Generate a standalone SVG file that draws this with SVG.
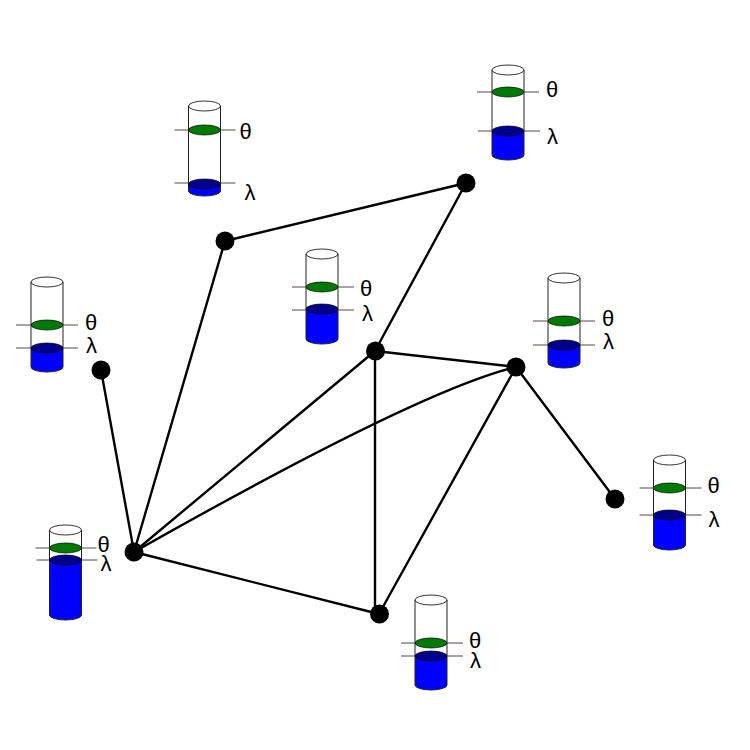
<svg xmlns="http://www.w3.org/2000/svg" width="750" height="750" viewBox="0 0 750 750">
<style>
.edge{fill:none;stroke:#000;stroke-width:2.4;stroke-linecap:round}
.dot{fill:#000}
.wall{stroke:#222;stroke-width:1;fill:none}
.top{fill:#fff;stroke:#000;stroke-width:.8}
.tick{stroke:#5e454c;stroke-width:1}
.water{fill:#0000ff;stroke:none}
.lam{fill:#00008b;stroke:#000;stroke-width:.7}
.the{fill:#007a00;stroke:#000;stroke-width:.7}
text{font-family:"Liberation Sans",Arial,sans-serif;font-size:22px;fill:#000}
</style>
<defs>
<g id="tube"><ellipse class="top" cx="0" cy="0" rx="16" ry="5"/><path class="wall" d="M-16 0V80M16 0V80"/></g>
</defs>
<g id="connectors">
<path class="edge" d="M225 241L466 183"/>
<path class="edge" d="M466 183L375 351"/>
<path class="edge" d="M225 241L134 552"/>
<path class="edge" d="M101 370L134 552"/>
<path class="edge" d="M375 351L516 367"/>
<path class="edge" d="M375 351L134 552"/>
<path class="edge" d="M375 351L375 614"/>
<path class="edge" d="M134 552Q420 390 516 367"/>
<path class="edge" d="M516 367L379 614"/>
<path class="edge" d="M516 367L615 499"/>
<path class="edge" d="M134 552L379 614"/>
</g>
<g id="n1"><circle class="dot" cx="225" cy="241" r="9.500"/></g>
<g id="n2"><circle class="dot" cx="466" cy="183" r="9.500"/></g>
<g id="n3"><circle class="dot" cx="375.500" cy="351" r="9.500"/></g>
<g id="n4"><circle class="dot" cx="101" cy="370" r="9.500"/></g>
<g id="n5"><circle class="dot" cx="516" cy="367" r="9.500"/></g>
<g id="n6"><circle class="dot" cx="615" cy="499" r="9.500"/></g>
<g id="n7"><circle class="dot" cx="134" cy="552" r="9.500"/></g>
<g id="n8"><circle class="dot" cx="379.500" cy="614" r="9.500"/></g>

<g id="tank1" transform="translate(204.500 106)">
<path class="water" d="M-16 78V85A16 5 0 0 0 16 85V78Z"/>
<use href="#tube"/>
<path class="wall" d="M-16 80V85A16 5 0 0 0 16 85V80"/>
<path class="tick" d="M-30 24H31M-30 77H31"/>
<ellipse class="the" cx="0" cy="24" rx="16" ry="5"/>
<ellipse class="lam" cx="0" cy="78" rx="16" ry="5"/>
<text x="35" y="33">θ</text><text x="40" y="94">λ</text>
</g>
<g id="tank2" transform="translate(508 70)">
<path class="water" d="M-16 61V85A16 5 0 0 0 16 85V61Z"/>
<use href="#tube"/>
<path class="wall" d="M-16 80V85A16 5 0 0 0 16 85V80"/>
<path class="tick" d="M-31 22H31M-30 61H32"/>
<ellipse class="the" cx="0" cy="22" rx="16" ry="5"/>
<ellipse class="lam" cx="0" cy="61" rx="16" ry="5"/>
<text x="38" y="27">θ</text><text x="39" y="74">λ</text>
</g>
<g id="tank3" transform="translate(322 254)">
<path class="water" d="M-16 55V85A16 5 0 0 0 16 85V55Z"/>
<use href="#tube"/>
<path class="wall" d="M-16 80V85A16 5 0 0 0 16 85V80"/>
<path class="tick" d="M-30 33H32M-30 56H32"/>
<ellipse class="the" cx="0" cy="33" rx="16" ry="5"/>
<ellipse class="lam" cx="0" cy="55" rx="16" ry="5"/>
<text x="38" y="42">θ</text><text x="40" y="67">λ</text>
</g>
<g id="tank4" transform="translate(47 282)">
<path class="water" d="M-16 66V85A16 5 0 0 0 16 85V66Z"/>
<use href="#tube"/>
<path class="wall" d="M-16 80V85A16 5 0 0 0 16 85V80"/>
<path class="tick" d="M-31 43H31M-31 66H31"/>
<ellipse class="the" cx="0" cy="43" rx="16" ry="5"/>
<ellipse class="lam" cx="0" cy="66" rx="16" ry="5"/>
<text x="38" y="48">θ</text><text x="39" y="71">λ</text>
</g>
<g id="tank5" transform="translate(564 278)">
<path class="water" d="M-16 67V85A16 5 0 0 0 16 85V67Z"/>
<use href="#tube"/>
<path class="wall" d="M-16 80V85A16 5 0 0 0 16 85V80"/>
<path class="tick" d="M-31 43H31M-31 67H31"/>
<ellipse class="the" cx="0" cy="43" rx="16" ry="5"/>
<ellipse class="lam" cx="0" cy="67" rx="16" ry="5"/>
<text x="38" y="48">θ</text><text x="39" y="71">λ</text>
</g>
<g id="tank6" transform="translate(669.500 460)">
<path class="water" d="M-16 55V85A16 5 0 0 0 16 85V55Z"/>
<use href="#tube"/>
<path class="wall" d="M-16 80V85A16 5 0 0 0 16 85V80"/>
<path class="tick" d="M-30 28H32M-30 55H32"/>
<ellipse class="the" cx="0" cy="28" rx="16" ry="5"/>
<ellipse class="lam" cx="0" cy="55" rx="16" ry="5"/>
<text x="38" y="33">θ</text><text x="39" y="67">λ</text>
</g>
<g id="tank7" transform="translate(65.500 530)">
<path class="water" d="M-16 30V85A16 5 0 0 0 16 85V30Z"/>
<use href="#tube"/>
<path class="wall" d="M-16 80V85A16 5 0 0 0 16 85V80"/>
<path class="tick" d="M-30 18H31M-29 30H32"/>
<ellipse class="the" cx="0" cy="18" rx="16" ry="5"/>
<ellipse class="lam" cx="0" cy="30" rx="16" ry="5"/>
<text x="32" y="22">θ</text><text x="35" y="41">λ</text>
</g>
<g id="tank8" transform="translate(431 600)">
<path class="water" d="M-16 56V85A16 5 0 0 0 16 85V56Z"/>
<use href="#tube"/>
<path class="wall" d="M-16 80V85A16 5 0 0 0 16 85V80"/>
<path class="tick" d="M-30 43H32M-30 56H32"/>
<ellipse class="the" cx="0" cy="43" rx="16" ry="5"/>
<ellipse class="lam" cx="0" cy="56" rx="16" ry="5"/>
<text x="38" y="48">θ</text><text x="39" y="68">λ</text>
</g>
</svg>
